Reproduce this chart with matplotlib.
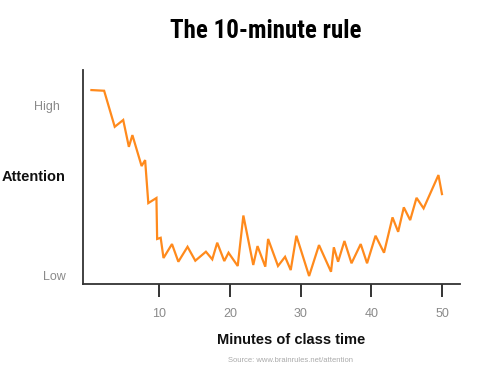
import matplotlib
matplotlib.use("Agg")
import matplotlib.pyplot as plt
from matplotlib import font_manager as fm

minutes = [0.4, 2.2, 3.7, 4.9, 5.7, 6.2, 7.5, 8.0, 8.45, 9.6, 9.7, 10.2, 10.6, 11.8,
           12.7, 14.0, 15.1, 16.6, 17.5, 18.2, 19.2, 19.8, 21.1, 21.9, 23.3, 23.9,
           25.0, 25.4, 26.8, 27.8, 28.6, 29.4, 31.2, 32.6, 34.3, 34.7, 35.3, 36.2,
           37.2, 38.5, 39.4, 40.6, 41.8, 43.0, 43.8, 44.6, 45.5, 46.4, 47.4, 49.5, 50.0]
attention = [11.0, 10.96, 8.84, 9.24, 7.66, 8.35, 6.53, 6.88, 4.35, 4.65, 2.24, 2.31,
             1.12, 1.94, 0.9, 1.78, 0.96, 1.49, 1.04, 2.02, 0.94, 1.43, 0.65, 3.62,
             0.71, 1.82, 0.61, 2.24, 0.65, 1.19, 0.41, 2.43, 0.06, 1.88, 0.31, 1.75,
             0.9, 2.12, 0.81, 1.94, 0.81, 2.43, 1.43, 3.51, 2.66, 4.1, 3.35, 4.66,
             4.04, 6.0, 4.88]
x_ticks = [10, 20, 30, 40, 50]
y_levels = [10, 0]
y_labels = ["High", "Low"]

names = {f.name for f in fm.fontManager.ttflist}
condensed = [n for n in ["Liberation Sans Narrow", "Roboto Condensed", "Open Sans Condensed",
                         "DejaVu Sans Condensed"] if n in names]
title_family = condensed[:1] + ["Liberation Sans", "DejaVu Sans"]
title_size = 18 if condensed and condensed[0] != "DejaVu Sans Condensed" else 16.5
plt.rcParams["font.family"] = ["Liberation Sans", "DejaVu Sans"]

fig = plt.figure(figsize=(5.0, 3.73), dpi=100)
ax = fig.add_axes([0.166, 0.2386, 0.754, 0.5737])

ax.plot(minutes, attention, color="#FF8A1C", lw=1.6, solid_joinstyle="miter")

ax.set_xlim(-0.79, 52.55)
ax.set_ylim(-0.41, 12.18)

for s in ["top", "right"]:
    ax.spines[s].set_visible(False)
for s in ["left", "bottom"]:
    ax.spines[s].set_color("#333333")
    ax.spines[s].set_linewidth(1.3)

ax.set_xticks(x_ticks)
ax.set_xticklabels([str(t) for t in x_ticks])
ax.tick_params(axis="x", length=9.5, width=1.4, color="#333333",
               labelcolor="#8a8a8a", labelsize=9, pad=8)
ax.set_yticks([])

tr = ax.get_yaxis_transform()
ax.text(-0.095, y_levels[0], y_labels[0], transform=tr, ha="center", va="center",
        fontsize=9, color="#8a8a8a")
ax.text(-0.075, y_levels[1], y_labels[1], transform=tr, ha="center", va="center",
        fontsize=9, color="#8a8a8a")

fig.text(0.068, 1 - 177 / 373, "Attention", ha="center", va="center",
         fontsize=10.5, fontweight="bold", color="#111111")
fig.text(0.532, 1 - 31 / 373, "The 10-minute rule", ha="center", va="center",
         fontsize=title_size, fontweight="bold", family=title_family, color="#000000")
fig.text(0.582, 1 - 340 / 373, "Minutes of class time", ha="center", va="center",
         fontsize=10.5, fontweight="bold", color="#111111")
fig.text(0.582, 1 - 360 / 373, "Source: www.brainrules.net/attention", ha="center",
         va="center", fontsize=5.5, color="#aaaaaa")

fig.savefig("out.png", dpi=100)
